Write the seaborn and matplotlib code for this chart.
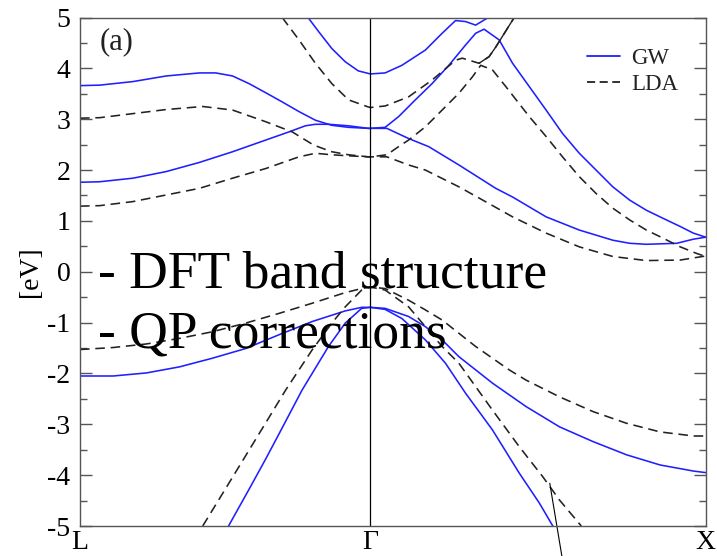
import matplotlib
matplotlib.use("Agg")
import matplotlib.pyplot as plt
from matplotlib.ticker import MultipleLocator
from matplotlib.lines import Line2D
import numpy as np
import pandas as pd
import seaborn as sns

# ---------------- data ----------------
K_L, K_G, K_X = 0.0, 0.866, 1.866
tick_labels = ["L", "\u0393", "X"]

gw_cb1_k = [0, 0.059, 0.158, 0.257, 0.356, 0.455, 0.554, 0.623, 0.672, 0.702, 0.742, 0.801, 0.860, 0.866,
            0.915, 0.980, 1.040, 1.130, 1.240, 1.290, 1.390, 1.489, 1.589, 1.639, 1.689, 1.780, 1.829, 1.866]
gw_cb1_e = [1.76, 1.77, 1.84, 1.97, 2.15, 2.36, 2.59, 2.75, 2.87, 2.90, 2.90, 2.87, 2.82, 2.82,
            2.82, 2.62, 2.46, 2.10, 1.64, 1.47, 1.08, 0.82, 0.62, 0.56, 0.54, 0.56, 0.64, 0.68]

gw_cb2_k = [0, 0.059, 0.158, 0.257, 0.356, 0.405, 0.455, 0.504, 0.554, 0.603, 0.653, 0.702, 0.751, 0.801, 0.860, 0.866,
            0.910, 0.950, 1.000, 1.050, 1.100, 1.150, 1.180, 1.205, 1.250, 1.290, 1.340, 1.390, 1.439, 1.489,
            1.539, 1.589, 1.639, 1.689, 1.739, 1.790, 1.829, 1.866]
gw_cb2_e = [3.66, 3.67, 3.74, 3.85, 3.91, 3.91, 3.85, 3.70, 3.52, 3.34, 3.15, 2.98, 2.88, 2.84, 2.82, 2.82,
            2.84, 3.05, 3.38, 3.70, 4.06, 4.46, 4.69, 4.77, 4.56, 4.10, 3.64, 3.18, 2.72, 2.33,
            2.00, 1.67, 1.41, 1.21, 1.05, 0.89, 0.76, 0.68]

gw_cb3_k = [0.680, 0.712, 0.751, 0.791, 0.830, 0.860, 0.866, 0.910, 0.960, 1.030, 1.080, 1.120, 1.150, 1.180, 1.210, 1.225]
gw_cb3_e = [5.00, 4.72, 4.39, 4.13, 3.95, 3.90, 3.89, 3.91, 4.06, 4.36, 4.69, 4.94, 4.92, 4.85, 4.97, 5.02]

gw_vb1_k = [0, 0.099, 0.198, 0.297, 0.395, 0.494, 0.593, 0.692, 0.791, 0.840, 0.866, 0.910, 0.980, 1.030, 1.080,
            1.130, 1.180, 1.230, 1.280, 1.330, 1.380, 1.430, 1.530, 1.630, 1.730, 1.830, 1.866]
gw_vb1_e = [-2.05, -2.05, -1.99, -1.87, -1.70, -1.51, -1.24, -0.98, -0.77, -0.70, -0.70, -0.72, -0.88, -1.08, -1.34,
            -1.67, -1.93, -2.19, -2.42, -2.65, -2.85, -3.05, -3.34, -3.60, -3.80, -3.92, -3.95]

gw_vb2_k = [0.443, 0.504, 0.554, 0.603, 0.662, 0.741, 0.791, 0.840, 0.866, 0.910, 0.960, 1.030, 1.090, 1.150,
            1.230, 1.310, 1.370, 1.410]
gw_vb2_e = [-5.0, -4.28, -3.68, -3.07, -2.33, -1.47, -1.01, -0.72, -0.70, -0.74, -0.92, -1.34, -1.80, -2.39,
            -3.11, -3.96, -4.55, -5.0]

lda_cb1_k = [0, 0.059, 0.158, 0.257, 0.356, 0.455, 0.554, 0.653, 0.702, 0.751, 0.801, 0.860, 0.866, 0.915, 0.980,
             1.030, 1.130, 1.190, 1.290, 1.390, 1.489, 1.589, 1.689, 1.790, 1.866]
lda_cb1_e = [1.29, 1.30, 1.38, 1.51, 1.64, 1.84, 2.03, 2.26, 2.33, 2.30, 2.28, 2.26, 2.26, 2.26, 2.10,
             2.00, 1.67, 1.45, 1.08, 0.76, 0.49, 0.30, 0.22, 0.23, 0.31]

lda_cb2_k = [0, 0.059, 0.158, 0.257, 0.366, 0.455, 0.554, 0.633, 0.697, 0.751, 0.801, 0.860, 0.866, 0.915, 0.950,
             0.980, 1.030, 1.080, 1.130, 1.170, 1.195, 1.230, 1.270, 1.340, 1.390, 1.439, 1.489, 1.539, 1.589,
             1.639, 1.689, 1.739, 1.790, 1.839, 1.866]
lda_cb2_e = [3.02, 3.03, 3.11, 3.19, 3.25, 3.18, 2.95, 2.75, 2.49, 2.36, 2.30, 2.26, 2.26, 2.30, 2.46,
             2.59, 2.85, 3.18, 3.51, 3.83, 4.06, 3.97, 3.64, 3.05, 2.66, 2.26, 1.87, 1.54, 1.25,
             1.02, 0.82, 0.66, 0.49, 0.36, 0.30]

lda_cb3_k = [0.603, 0.653, 0.702, 0.751, 0.801, 0.860, 0.866, 0.910, 0.980, 1.050, 1.120, 1.140, 1.170, 1.190,
             1.220, 1.240, 1.295]
lda_cb3_e = [5.0, 4.56, 4.10, 3.70, 3.38, 3.24, 3.23, 3.26, 3.44, 3.77, 4.16, 4.20, 4.14, 4.10,
             4.23, 4.42, 5.0]

lda_vb1_k = [0, 0.099, 0.198, 0.297, 0.395, 0.494, 0.593, 0.692, 0.791, 0.840, 0.866, 0.910, 0.980, 1.030, 1.080,
             1.130, 1.180, 1.230, 1.280, 1.330, 1.430, 1.530, 1.630, 1.730, 1.830, 1.866]
lda_vb1_e = [-1.53, -1.49, -1.42, -1.31, -1.18, -1.01, -0.82, -0.62, -0.41, -0.33, -0.30, -0.33, -0.56, -0.75, -0.95,
             -1.21, -1.47, -1.70, -1.93, -2.13, -2.46, -2.75, -2.98, -3.15, -3.23, -3.23]

lda_vb2_k = [0.366, 0.455, 0.554, 0.613, 0.692, 0.751, 0.791, 0.840, 0.866, 0.910, 0.980, 1.030, 1.080, 1.130,
             1.230, 1.310, 1.380, 1.430, 1.495]
lda_vb2_e = [-5.0, -4.04, -2.97, -2.33, -1.54, -1.01, -0.69, -0.36, -0.30, -0.36, -0.69, -1.08, -1.47, -1.80,
             -2.72, -3.44, -4.03, -4.49, -5.0]

pointer_k = [1.401, 1.437]
pointer_e = [-4.16, -5.59]

overlay_lines = ["- DFT band structure", "- QP corrections"]

# ---------------- build long table ----------------
bands = {
    ("GW", "cb1"): (gw_cb1_k, gw_cb1_e), ("GW", "cb2"): (gw_cb2_k, gw_cb2_e), ("GW", "cb3"): (gw_cb3_k, gw_cb3_e),
    ("GW", "vb1"): (gw_vb1_k, gw_vb1_e), ("GW", "vb2"): (gw_vb2_k, gw_vb2_e),
    ("LDA", "cb1"): (lda_cb1_k, lda_cb1_e), ("LDA", "cb2"): (lda_cb2_k, lda_cb2_e), ("LDA", "cb3"): (lda_cb3_k, lda_cb3_e),
    ("LDA", "vb1"): (lda_vb1_k, lda_vb1_e), ("LDA", "vb2"): (lda_vb2_k, lda_vb2_e),
}
rows = []
for (meth, b), (ks, es) in bands.items():
    for kk, ee in zip(ks, es):
        rows.append({"k": kk, "E": ee, "method": meth, "band": meth + b})
df = pd.DataFrame(rows)

# ---------------- style ----------------
sns.set_theme(style="white")
plt.rcParams["font.family"] = ["Liberation Serif", "DejaVu Serif"]
plt.rcParams["axes.unicode_minus"] = False
plt.rcParams["text.color"] = "black"
plt.rcParams["xtick.labelcolor"] = "black"
plt.rcParams["ytick.labelcolor"] = "black"
plt.rcParams["axes.labelcolor"] = "black"

BLUE = "#1f1fff"
DARK = "#222222"
SPINE = "#555555"

fig = plt.figure(figsize=(7.17, 5.56), dpi=100)
ax = fig.add_axes([80 / 717, 1 - 526 / 556, 625.7 / 717, 508.5 / 556])

sns.lineplot(data=df, x="k", y="E", hue="method", style="method", units="band",
             estimator=None, sort=False, palette={"GW": BLUE, "LDA": DARK},
             dashes={"GW": "", "LDA": (6.0, 3.6)}, linewidth=1.15, legend=False, ax=ax)

# steep LDA segment near the top appears solid in the reference
ax.plot(lda_cb3_k[-4:], lda_cb3_e[-4:], color=DARK, lw=1.0)

ax.axvline(K_G, color="black", lw=0.9)

ax.set_xlim(K_L, K_X)
ax.set_ylim(-5, 5)
ax.set_xticks([K_L, K_G, K_X])
ax.set_xticklabels(tick_labels, fontsize=20, color="black")
ax.set_yticks(range(-5, 6))
ax.set_yticklabels([str(v) for v in range(-5, 6)], fontsize=20, color="black")
ax.yaxis.set_minor_locator(MultipleLocator(0.5))
ax.tick_params(axis="x", which="both", length=0, pad=3)
ax.tick_params(axis="y", which="both", direction="in", left=True, right=True, labelright=False,
               color=SPINE, width=1.0, pad=7)
ax.tick_params(axis="y", which="major", length=8.5)
ax.tick_params(axis="y", which="minor", length=5)
ax.set_xlabel("")
ax.set_ylabel("[eV]", fontsize=20, labelpad=3, color="black")
for s in ax.spines.values():
    s.set_color(SPINE)
    s.set_linewidth(1.0)

ax.text(0.032, 0.952, "(a)", transform=ax.transAxes, fontsize=22, va="center", ha="left", color="#222222")

handles = [Line2D([], [], color=BLUE, lw=1.3),
           Line2D([], [], color=DARK, lw=1.3, dashes=(4.5, 2.5))]
leg = ax.legend(handles, ["GW", "LDA"], loc="upper left", bbox_to_anchor=(0.810, 0.94), frameon=False,
                fontsize=16.5, handlelength=1.45, handletextpad=0.5, labelspacing=0.22, borderpad=0,
                borderaxespad=0)
for t in leg.get_texts():
    t.set_color("#222222")

# pointer line running off the bottom
ax.plot(pointer_k, pointer_e, color="black", lw=0.8, clip_on=False)

fig.text(98 / 717, 1 - 287 / 556, overlay_lines[0], fontsize=38.5, va="baseline", ha="left", color="black")
fig.text(98 / 717, 1 - 347 / 556, overlay_lines[1], fontsize=38.5, va="baseline", ha="left", color="black")

fig.savefig("out.png", dpi=100)
